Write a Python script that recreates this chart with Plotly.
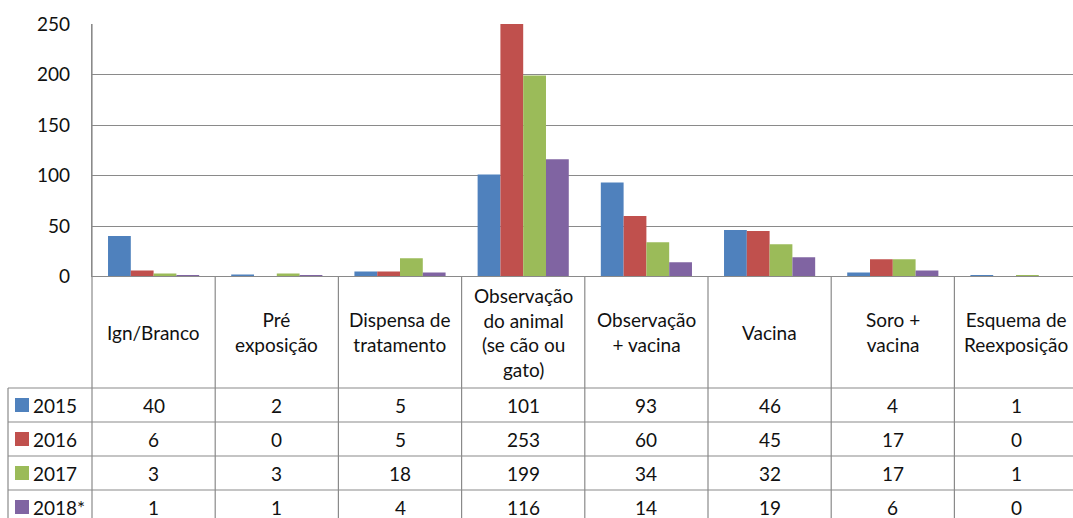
import plotly.graph_objects as go

# Categories (header labels of the data table, line breaks included)
categories = [
    "Ign/Branco",
    "Pré\nexposição",
    "Dispensa de\ntratamento",
    "Observação\ndo animal\n(se cão ou\ngato)",
    "Observação\n+ vacina",
    "Vacina",
    "Soro +\nvacina",
    "Esquema de\nReexposição",
]

series_names = ["2015", "2016", "2017", "2018*"]
values_2015 = [40, 2, 5, 101, 93, 46, 4, 1]
values_2016 = [6, 0, 5, 253, 60, 45, 17, 0]
values_2017 = [3, 3, 18, 199, 34, 32, 17, 1]
values_2018 = [1, 1, 4, 116, 14, 19, 6, 0]
series_values = [values_2015, values_2016, values_2017, values_2018]
series_colors = ["#4F81BD", "#C0504D", "#9BBB59", "#8064A2"]

y_ticks = [0, 50, 100, 150, 200, 250]

W, H = 1073, 518
FONT = "Lato"
FS = 19
LINE = "#8A8A8A"
TXT = "#111111"


def py(px):
    """Pixel row -> paper y."""
    return 1 - px / H


def px_x(px):
    """Pixel column -> paper x."""
    return px / W


plot_left, plot_top, plot_bottom = 92, 24, 276.5
cat_w = 123.2
header_bottom = 388
row_h = 34

x_idx = list(range(len(categories)))

fig = go.Figure()
for name, vals, col in zip(series_names, series_values, series_colors):
    fig.add_trace(go.Bar(x=x_idx, y=vals, name=name, marker=dict(color=col, line=dict(width=0))))

shapes = []
annotations = []

# Vertical column separators of the table, placed on the category axis
for k in range(1, len(categories) + 1):
    shapes.append(dict(type="line", xref="x", yref="paper", x0=k - 0.5, x1=k - 0.5,
                       y0=py(plot_bottom), y1=py(H + 10), line=dict(color=LINE, width=1.2)))
# Left edge of the plot / first column
shapes.append(dict(type="line", xref="paper", yref="paper", x0=px_x(plot_left), x1=px_x(plot_left),
                   y0=py(plot_top), y1=py(H + 10), line=dict(color=LINE, width=1.2)))
# Legend column left edge
shapes.append(dict(type="line", xref="paper", yref="paper", x0=px_x(8), x1=px_x(8),
                   y0=py(header_bottom), y1=py(H + 10), line=dict(color=LINE, width=1.2)))
# Horizontal row lines
shapes.append(dict(type="line", xref="paper", yref="paper", x0=px_x(plot_left), x1=1.01,
                   y0=py(plot_bottom), y1=py(plot_bottom), line=dict(color=LINE, width=1.2)))
for r in range(len(series_names)):
    yy = header_bottom + r * row_h
    shapes.append(dict(type="line", xref="paper", yref="paper", x0=px_x(8), x1=1.01,
                       y0=py(yy), y1=py(yy), line=dict(color=LINE, width=1.2)))

# Header labels
for k, cat in enumerate(categories):
    annotations.append(dict(x=k, y=py((plot_bottom + header_bottom) / 2), xref="x", yref="paper",
                            text=cat.replace("\n", "<br>"), showarrow=False,
                            xanchor="center", yanchor="middle", align="center",
                            font=dict(family=FONT, size=FS, color=TXT)))

# Data rows with legend keys
for r, (name, vals, col) in enumerate(zip(series_names, series_values, series_colors)):
    yc = header_bottom + r * row_h + row_h / 2
    shapes.append(dict(type="rect", xref="paper", yref="paper", x0=px_x(15), x1=px_x(29),
                       y0=py(yc - 7), y1=py(yc + 7), line=dict(width=0), fillcolor=col))
    annotations.append(dict(x=px_x(31), y=py(yc), xref="paper", yref="paper", text=name,
                            showarrow=False, xanchor="left", yanchor="middle",
                            font=dict(family=FONT, size=FS, color=TXT)))
    for k, v in enumerate(vals):
        annotations.append(dict(x=k, y=py(yc), xref="x", yref="paper", text=str(v),
                                showarrow=False, xanchor="center", yanchor="middle",
                                font=dict(family=FONT, size=FS, color=TXT)))

fig.update_layout(
    width=W, height=H,
    margin=dict(l=0, r=0, t=0, b=0),
    paper_bgcolor="white", plot_bgcolor="white",
    barmode="group", bargap=0.26, bargroupgap=0,
    showlegend=False,
    shapes=shapes, annotations=annotations,
    font=dict(family=FONT, size=FS, color=TXT),
    xaxis=dict(domain=[px_x(plot_left), 1], range=[-0.5, -0.5 + (W - plot_left) / cat_w],
               showticklabels=False, showgrid=False, zeroline=False, showline=False,
               ticks="", automargin=False, fixedrange=True),
    yaxis=dict(domain=[py(plot_bottom), py(plot_top)], range=[0, 250],
               tickvals=y_ticks, ticktext=[str(t) for t in y_ticks],
               showgrid=True, gridcolor=LINE, gridwidth=1.2, zeroline=False,
               showline=True, linecolor=LINE, linewidth=1.2, ticks="",
               ticklabelstandoff=17, automargin=False, fixedrange=True,
               tickfont=dict(family=FONT, size=FS, color=TXT)),
)

fig.write_html("out.html")
